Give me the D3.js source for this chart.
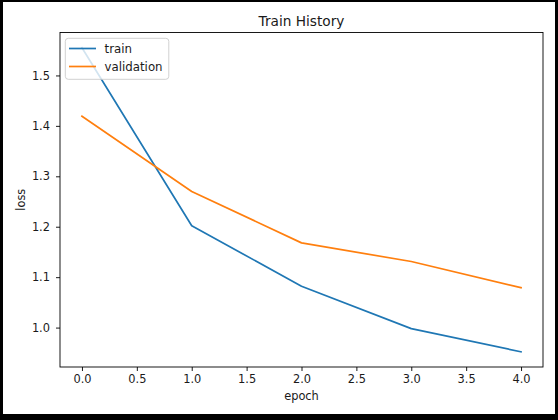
<!DOCTYPE html>
<html>
<head>
<meta charset="utf-8">
<script src="https://cdn.jsdelivr.net/npm/d3@7"></script>
<style>
  html, body { margin: 0; padding: 0; background: #fff; }
  svg { display: block; font-family: "DejaVu Sans", sans-serif; }
</style>
</head>
<body>
<svg id="chart" width="558" height="420"></svg>
<script>
const epochs = [0, 1, 2, 3, 4];
const trainLoss = [1.555, 1.202, 1.082, 0.998, 0.952];
const valLoss = [1.419, 1.270, 1.168, 1.131, 1.079];
const xTicks = [0.0, 0.5, 1.0, 1.5, 2.0, 2.5, 3.0, 3.5, 4.0];
const yTicks = [1.0, 1.1, 1.2, 1.3, 1.4, 1.5];
const seriesNames = ["train", "validation"];
const seriesColors = ["#1f77b4", "#ff7f0e"];

const svg = d3.select("#chart");
// outer frame
svg.append("rect").attr("x", 0).attr("y", 0).attr("width", 558).attr("height", 420).attr("fill", "#000");
svg.append("rect").attr("x", 3).attr("y", 2).attr("width", 552).attr("height", 412).attr("fill", "#fff");

const L = 60, R = 543, T = 32.5, B = 367;

const xMin = d3.min(epochs), xMax = d3.max(epochs);
const xm = (xMax - xMin) * 0.05;
const x = d3.scaleLinear().domain([xMin - xm, xMax + xm]).range([L, R]);

const all = trainLoss.concat(valLoss);
const yMin = d3.min(all), yMax = d3.max(all);
const ym = (yMax - yMin) * 0.05;
const y = d3.scaleLinear().domain([yMin - ym, yMax + ym]).range([B, T]);

const fs = 11.4;
const lfs = 11.8;

// axes
const xAxis = d3.axisBottom(x).tickValues(xTicks).tickFormat(d3.format(".1f")).tickSizeInner(4).tickSizeOuter(0).tickPadding(4);
const yAxis = d3.axisLeft(y).tickValues(yTicks).tickFormat(d3.format(".1f")).tickSizeInner(4).tickSizeOuter(0).tickPadding(6);

const gx = svg.append("g").attr("transform", `translate(0,${B})`).call(xAxis);
const gy = svg.append("g").attr("transform", `translate(${L},0)`).call(yAxis);
[gx, gy].forEach(g => {
  g.select(".domain").remove();
  g.selectAll(".tick line").attr("stroke", "#000").attr("stroke-width", 0.9);
  g.selectAll(".tick text").attr("fill", "#1a1a1a").style("font-size", fs + "px").style("font-family", "DejaVu Sans");
});

// lines
const line = d3.line().x((d, i) => x(epochs[i])).y(d => y(d));
[trainLoss, valLoss].forEach((s, k) => {
  svg.append("path").datum(s).attr("d", line)
    .attr("fill", "none").attr("stroke", seriesColors[k]).attr("stroke-width", 1.7)
    .attr("stroke-linejoin", "round").attr("stroke-linecap", "square");
});

// spines
svg.append("rect").attr("x", L).attr("y", T).attr("width", R - L).attr("height", B - T)
  .attr("fill", "none").attr("stroke", "#000").attr("stroke-width", 0.9);

// title & labels
svg.append("text").attr("x", (L + R) / 2).attr("y", 26).attr("text-anchor", "middle")
  .style("font-size", "13.7px").attr("fill", "#1a1a1a").text("Train History");
svg.append("text").attr("x", (L + R) / 2).attr("y", 400).attr("text-anchor", "middle")
  .style("font-size", fs + "px").attr("fill", "#1a1a1a").text("epoch");
svg.append("text").attr("transform", `translate(25,${(T + B) / 2}) rotate(-90)`).attr("text-anchor", "middle")
  .style("font-size", fs + "px").attr("fill", "#1a1a1a").text("loss");

// legend
const lg = svg.append("g");
lg.append("rect").attr("x", 65.3).attr("y", 38.3).attr("width", 103.5).attr("height", 41).attr("rx", 3)
  .attr("fill", "#fff").attr("fill-opacity", 0.8).attr("stroke", "#cccccc").attr("stroke-width", 0.9);
seriesNames.forEach((n, k) => {
  const yy = 48.5 + k * 18;
  lg.append("line").attr("x1", 69).attr("x2", 96).attr("y1", yy).attr("y2", yy)
    .attr("stroke", seriesColors[k]).attr("stroke-width", 1.7);
  lg.append("text").attr("x", 104.5).attr("y", yy).attr("dy", "0.35em")
    .style("font-size", lfs + "px").attr("fill", "#1a1a1a").text(n);
});
</script>
</body>
</html>
